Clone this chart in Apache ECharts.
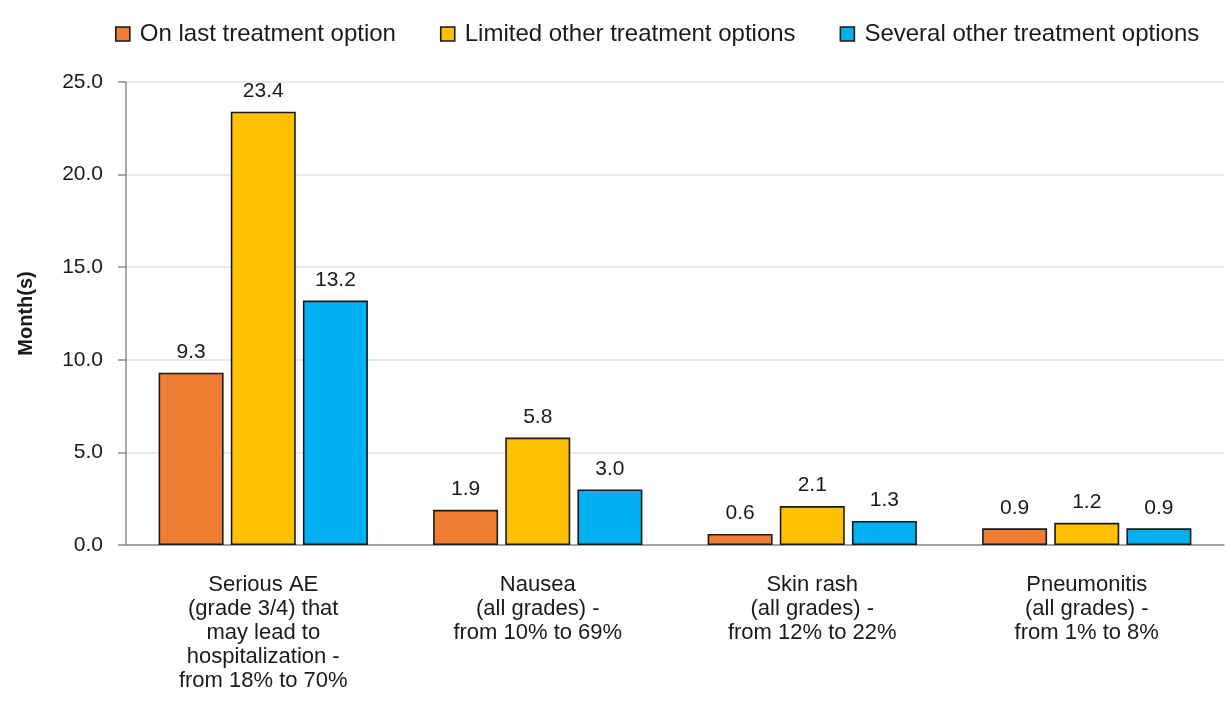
<!DOCTYPE html>
<html>
<head>
<meta charset="utf-8">
<script src="https://cdn.jsdelivr.net/npm/echarts@6/dist/echarts.min.js"></script>
<style>
  html, body { margin: 0; padding: 0; background: #fff; }
  #main { width: 1228px; height: 708px; }
</style>
</head>
<body>
<div id="main"></div>
<script>
const categories = [
  'Serious AE\n(grade 3/4) that\nmay lead to\nhospitalization -\nfrom 18% to 70%',
  'Nausea\n(all grades) -\nfrom 10% to 69%',
  'Skin rash\n(all grades) -\nfrom 12% to 22%',
  'Pneumonitis\n(all grades) -\nfrom 1% to 8%'
];
const seriesNames = ['On last treatment option', 'Limited other treatment options', 'Several other treatment options'];
const lastOption = [9.3, 1.9, 0.6, 0.9];
const limitedOptions = [23.4, 5.8, 2.1, 1.2];
const severalOptions = [13.2, 3.0, 1.3, 0.9];
const colors = ['#ED7D31', '#FFC000', '#00B0F0'];

const font = 'Liberation Sans, Arial, sans-serif';
const chart = echarts.init(document.getElementById('main'));

function mkSeries(name, data, color) {
  return {
    name: name,
    type: 'bar',
    data: data,
    barWidth: 65,
    barGap: '11%',
    itemStyle: { color: color, borderColor: '#1a1a1a', borderWidth: 1.6 },
    label: {
      show: true,
      position: 'top',
      distance: 10,
      color: '#1a1a1a',
      fontFamily: font,
      fontSize: 21,
      formatter: p => p.value.toFixed(1)
    }
  };
}

const option = {
  animation: false,
  textStyle: { fontFamily: font },
  legend: {
    top: 17,
    left: 110,
    itemWidth: 14,
    itemHeight: 14,
    itemGap: 44,
    textStyle: { fontSize: 24, color: '#1a1a1a', fontFamily: font, padding: [0, 0, 0, 5] },
    data: seriesNames.map(n => ({ name: n, icon: 'rect', itemStyle: { borderColor: '#1a1a1a', borderWidth: 1.6 } }))
  },
  grid: { left: 126, right: 4, top: 82, bottom: 163 },
  xAxis: {
    type: 'category',
    data: categories,
    axisLine: { lineStyle: { color: '#8c8c8c', width: 1.5 } },
    axisTick: { show: false },
    axisLabel: {
      interval: 0,
      margin: 28,
      fontSize: 22,
      lineHeight: 24,
      color: '#1a1a1a',
      fontFamily: font
    }
  },
  yAxis: {
    type: 'value',
    min: 0,
    max: 25,
    interval: 5,
    name: 'Month(s)',
    nameLocation: 'middle',
    nameGap: 90,
    nameTextStyle: { fontSize: 20, fontWeight: 'bold', color: '#1a1a1a', fontFamily: font },
    axisLine: { show: true, lineStyle: { color: '#8c8c8c', width: 1.5 } },
    axisTick: { show: true, length: 8, lineStyle: { color: '#8c8c8c', width: 1.5 } },
    axisLabel: {
      margin: 23,
      fontSize: 21,
      color: '#1a1a1a',
      fontFamily: font,
      formatter: v => v.toFixed(1)
    },
    splitLine: { lineStyle: { color: '#dbe3ec', width: 1.5 } }
  },
  series: [
    mkSeries(seriesNames[0], lastOption, colors[0]),
    mkSeries(seriesNames[1], limitedOptions, colors[1]),
    mkSeries(seriesNames[2], severalOptions, colors[2])
  ]
};
chart.setOption(option);
</script>
</body>
</html>
